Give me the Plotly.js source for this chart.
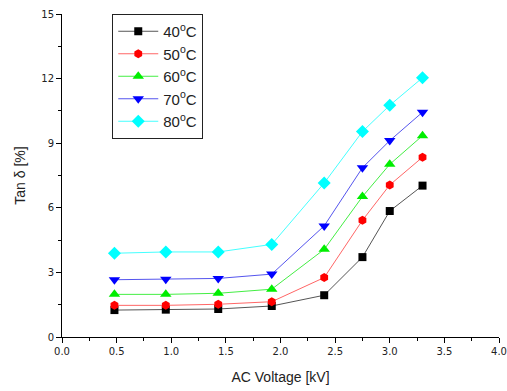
<!DOCTYPE html>
<html><head><meta charset="utf-8">
<script src="https://cdn.plot.ly/plotly-3.0.1.min.js"></script>
<style>html,body{margin:0;padding:0;background:#fff}#c{width:507px;height:391px}</style>
</head><body><div id="c"></div>
<script>
const voltage = [0.48, 0.95, 1.43, 1.92, 2.40, 2.75, 3.00, 3.30];
const seriesNames = ["40<sup>o</sup>C", "50<sup>o</sup>C", "60<sup>o</sup>C", "70<sup>o</sup>C", "80<sup>o</sup>C"];
const tan40 = [1.25, 1.27, 1.30, 1.44, 1.94, 3.71, 5.85, 7.03];
const tan50 = [1.47, 1.47, 1.52, 1.64, 2.76, 5.42, 7.06, 8.35];
const tan60 = [1.98, 1.98, 2.03, 2.22, 4.07, 6.52, 8.02, 9.35];
const tan70 = [2.66, 2.68, 2.72, 2.92, 5.16, 7.86, 9.12, 10.44];
const tan80 = [3.89, 3.95, 3.95, 4.30, 7.15, 9.54, 10.76, 12.04];
const xTicks = [0, 0.5, 1, 1.5, 2, 2.5, 3, 3.5, 4];
const xTickLabels = ["0.0","0.5","1.0","1.5","2.0","2.5","3.0","3.5","4.0"];
const yTicks = [0, 3, 6, 9, 12, 15];

const values = [tan40, tan50, tan60, tan70, tan80];
const lineColors = ["#555555", "#ff6666", "#44ee44", "#5555ee", "#44ffff"];
const markerColors = ["#000000", "#ff0000", "#00ee00", "#0000ff", "#00ffff"];
const symbols = ["square", "hexagon", "triangle-up", "triangle-down", "diamond"];
const sizes = [8, 9, 10, 10, 10];

const traces = values.map((v, i) => ({
  x: voltage, y: v, name: seriesNames[i], type: "scatter", mode: "lines+markers",
  line: {color: lineColors[i], width: 1},
  marker: {color: markerColors[i], symbol: symbols[i], size: sizes[i]}
}));

const axisFont = {family: "DejaVu Sans, Verdana, sans-serif", size: 10, color: "#222"};
const titleFont = {family: "Liberation Sans, Arial, sans-serif", size: 14, color: "#222"};
const layout = {
  width: 507, height: 391,
  margin: {l: 62, r: 8, t: 14, b: 54},
  paper_bgcolor: "#fff", plot_bgcolor: "#fff",
  showlegend: true,
  legend: {x: 0.115, y: 1.0, xanchor: "left", yanchor: "top",
    bordercolor: "#222", borderwidth: 1, bgcolor: "#fff",
    font: {family: "Liberation Sans, Arial, sans-serif", size: 15, color: "#222"},
    itemwidth: 40, tracegroupgap: 0},
  xaxis: {range: [0, 4], tickvals: xTicks, ticktext: xTickLabels,
    showgrid: false, zeroline: false, showline: true, linecolor: "#000", linewidth: 1,
    ticks: "outside", ticklen: 5, tickcolor: "#000", tickfont: axisFont,
    minor: {dtick: 0.25, ticks: "outside", ticklen: 3, tickcolor: "#000"},
    title: {text: "AC Voltage [kV]", font: titleFont, standoff: 16}},
  yaxis: {range: [0, 15], tickvals: yTicks,
    showgrid: false, zeroline: false, showline: true, linecolor: "#000", linewidth: 1,
    ticks: "outside", ticklen: 5, tickcolor: "#000", tickfont: axisFont,
    minor: {dtick: 1.5, ticks: "outside", ticklen: 3, tickcolor: "#000"},
    title: {text: "Tan δ [%]", font: titleFont, standoff: 12}}
};
Plotly.newPlot("c", traces, layout, {displayModeBar: false, staticPlot: true});
</script></body></html>
